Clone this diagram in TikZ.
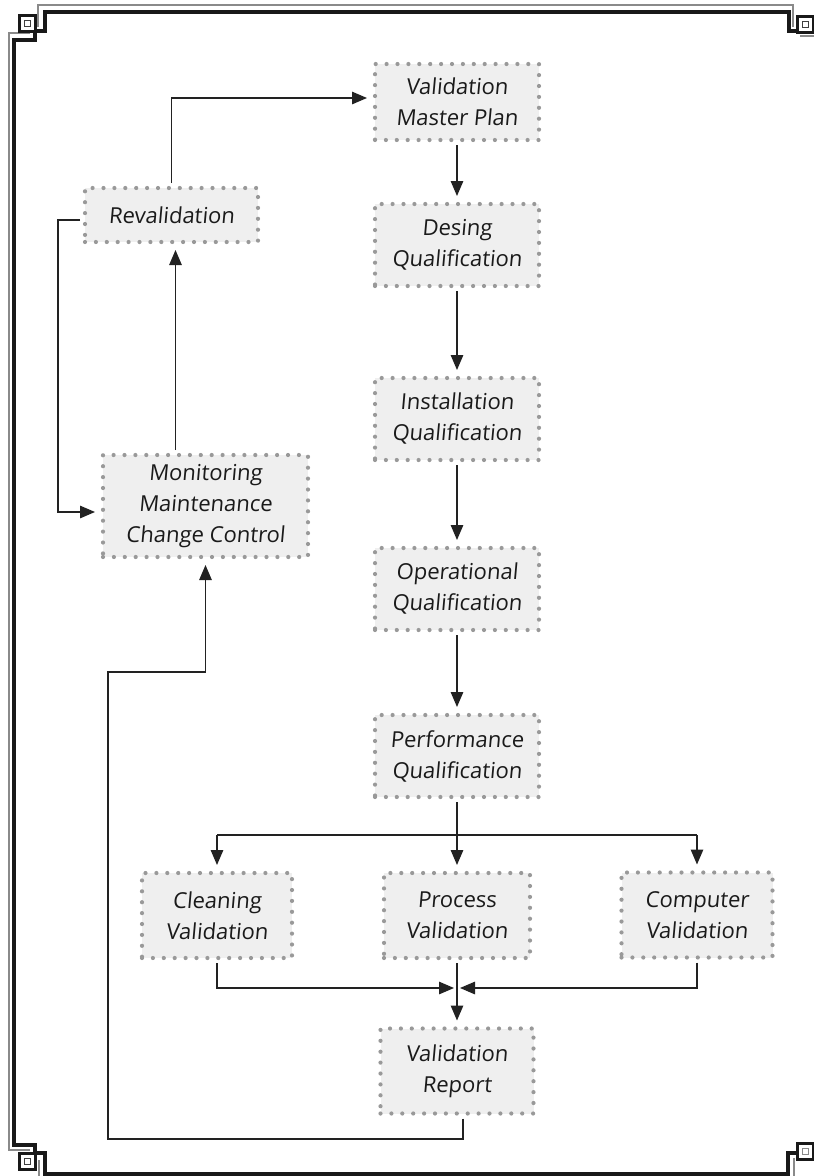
\documentclass[tikz,border=0pt]{standalone}
\usepackage{fontspec}
\setmainfont{Open Sans}[FakeSlant=0.09]
\usetikzlibrary{arrows.meta}
\definecolor{boxfill}{HTML}{EFEFEF}
\definecolor{dotgray}{HTML}{999999}
\definecolor{textc}{HTML}{1A1A1A}
\definecolor{linec}{HTML}{222222}
\definecolor{framegray}{HTML}{8A8A8A}
\tikzset{
  box/.style={fill=boxfill, draw=dotgray, line width=4.2pt,
    dash pattern=on 0pt off 10.9pt, line cap=round,
    minimum width=164pt, minimum height=82pt, align=center,
    inner sep=0pt, outer sep=5pt,
    font=\fontsize{22}{31}\selectfont, text=textc},
  conn/.style={line width=1.3pt, draw=linec},
  arr/.style={conn, -{Triangle[length=15pt,width=12.5pt]}, shorten >=3pt},
  thickfr/.style={line width=4.5pt, draw=black!90, line cap=butt, line join=miter},
  thinfr/.style={line width=1.3pt, draw=framegray}
}
\begin{document}
\begin{tikzpicture}[x=1pt,y=-1pt]
\useasboundingbox (0,0) rectangle (814,1176);
% frame
\begin{scope}
\clip (0,0) rectangle (814,1176);
\draw[thinfr] (38,27) -- (38,5) -- (793,5) -- (793,27);
\draw[thinfr] (30,33) -- (9,33) -- (9,1150) -- (30,1150);
\draw[thinfr] (39,1160) -- (39,1176);
\draw[thinfr] (794,1158) -- (794,1176);
\draw[thinfr] (800,36) -- (814,36);
\draw[thickfr] (36,31) -- (45,31) -- (45,12) -- (789,12) -- (789,31) -- (797,31);
\draw[thickfr] (35,32) -- (35,40) -- (14,40) -- (14,1145) -- (35,1145) -- (35,1153);
\draw[thickfr] (36,1153) -- (45,1153) -- (45,1174) -- (788,1174) -- (788,1153) -- (797,1153);
\draw[line width=3.5pt, draw=black!90] (19.5,15.5) rectangle (35.5,31.5);
\draw[line width=3.5pt, draw=black!90] (797.5,16.5) rectangle (813.5,32.5);
\draw[line width=3.5pt, draw=black!90] (19.5,1153.5) rectangle (35.5,1169.5);
\draw[line width=3.5pt, draw=black!90] (797.5,1143.5) rectangle (813.5,1159.5);
\draw[line width=1.5pt, draw=black!75] (24.5,20.5) rectangle (30.5,26.5);
\draw[line width=1.5pt, draw=black!75] (802.5,21.5) rectangle (808.5,27.5);
\draw[line width=1.5pt, draw=black!75] (24.5,1158.5) rectangle (30.5,1164.5);
\draw[line width=1.5pt, draw=framegray] (802.5,1148.5) rectangle (808.5,1154.5);
\end{scope}
% boxes
\node[box, minimum height=76pt] (vmp) at (457,102) {Validation\\Master Plan};
\node[box] (dq) at (457,245) {Desing\\Qualification};
\node[box] (iq) at (457,419) {Installation\\Qualification};
\node[box] (oq) at (457,589) {Operational\\Qualification};
\node[box] (pq) at (457,756) {Performance\\Qualification};
\node[box, minimum width=150pt, minimum height=85pt] (cv) at (217,915.5) {Cleaning\\Validation};
\node[box, minimum width=146pt, minimum height=85pt] (pv) at (457,915.5) {Process\\Validation};
\node[box, minimum width=151pt, minimum height=85pt] (cpv) at (697,915) {Computer\\Validation};
\node[box, minimum width=153pt, minimum height=85pt] (vr) at (457,1071) {Validation\\Report};
\node[box, minimum width=173pt, minimum height=54pt] (rv) at (171.5,215) {Revalidation};
\node[box, minimum width=205pt, minimum height=102pt] (mon) at (205.5,506) {Monitoring\\Maintenance\\Change Control};
% connectors
\draw[arr] (vmp.south) -- (dq.north);
\draw[arr] (dq.south) -- (iq.north);
\draw[arr] (iq.south) -- (oq.north);
\draw[arr] (oq.south) -- (pq.north);
\draw[arr] (pq.south) -- (pv.north);
\coordinate (split) at (457,835);
\draw[conn] (split -| cv.north) -- (split -| cpv.north);
\draw[arr] (split -| cv.north) -- (cv.north);
\draw[arr] (split -| cpv.north) -- (cpv.north);
\coordinate (merge) at (457,988);
\draw[arr] (cv.south) |- (merge);
\draw[arr] (cpv.south) |- (merge);
\draw[arr] (pv.south) -- (vr.north);
\coordinate (lb) at (108,1139);
\coordinate (lt) at (108,672);
\draw[arr] ([xshift=6pt]vr.south) |- (lb) -- (lt) -| (mon.south);
\draw[arr] ([xshift=-30pt]mon.north) -- ([xshift=-30pt]mon.north |- rv.south);
\draw[arr] (rv.north) |- ([yshift=4pt]vmp.west);
\coordinate (lx) at (58,0);
\draw[arr] ([yshift=-5pt]rv.west) -- ([yshift=-5pt]rv.west -| lx) |- ([yshift=-6pt]mon.west);
\end{tikzpicture}
\end{document}
